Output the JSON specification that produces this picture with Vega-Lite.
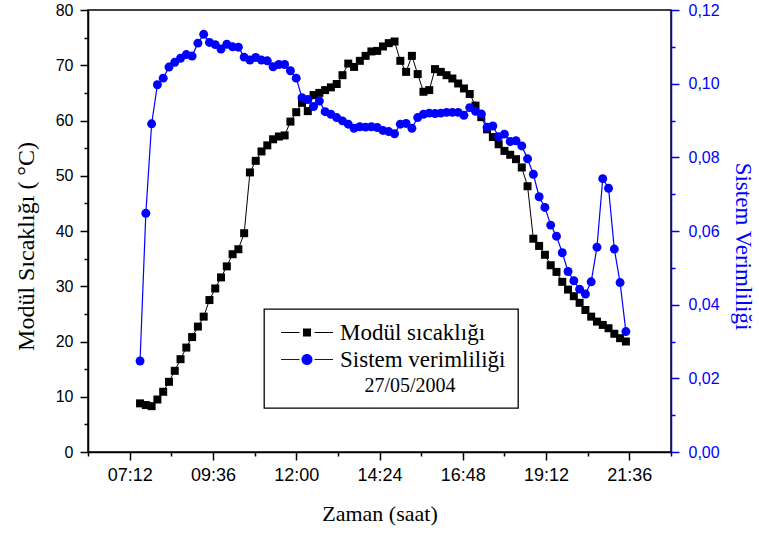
{
  "$schema": "https://vega.github.io/schema/vega-lite/v6.json",
  "width": 583,
  "height": 442,
  "autosize": {"type": "none"},
  "padding": {"left": 88, "top": 10, "right": 88, "bottom": 81},
  "background": "white",
  "config": {
    "view": {"stroke": "#000000", "strokeWidth": 1.5},
    "axis": {
      "grid": false,
      "domainColor": "#000000",
      "domainWidth": 1.5,
      "tickColor": "#000000",
      "tickWidth": 1.5,
      "labelFont": "Liberation Sans",
      "labelFontSize": 16,
      "labelColor": "#000000",
      "titleFont": "Liberation Serif",
      "titleFontSize": 22,
      "titleFontWeight": "normal",
      "titleColor": "#000000"
    }
  },
  "data": {
    "values": [
      {"saat": "2004-05-27T07:30", "sicaklik": 8.8, "verim": 0.0247},
      {"saat": "2004-05-27T07:40", "sicaklik": 8.5, "verim": 0.0648},
      {"saat": "2004-05-27T07:50", "sicaklik": 8.3, "verim": 0.0891},
      {"saat": "2004-05-27T08:00", "sicaklik": 9.5, "verim": 0.0997},
      {"saat": "2004-05-27T08:10", "sicaklik": 10.9, "verim": 0.1015},
      {"saat": "2004-05-27T08:20", "sicaklik": 12.7, "verim": 0.1045},
      {"saat": "2004-05-27T08:30", "sicaklik": 14.7, "verim": 0.1058},
      {"saat": "2004-05-27T08:40", "sicaklik": 16.8, "verim": 0.1069},
      {"saat": "2004-05-27T08:50", "sicaklik": 18.9, "verim": 0.1079},
      {"saat": "2004-05-27T09:00", "sicaklik": 20.8, "verim": 0.1075},
      {"saat": "2004-05-27T09:10", "sicaklik": 22.7, "verim": 0.1110},
      {"saat": "2004-05-27T09:20", "sicaklik": 24.5, "verim": 0.1134},
      {"saat": "2004-05-27T09:30", "sicaklik": 27.5, "verim": 0.1112},
      {"saat": "2004-05-27T09:40", "sicaklik": 29.6, "verim": 0.1106},
      {"saat": "2004-05-27T09:50", "sicaklik": 31.6, "verim": 0.1094},
      {"saat": "2004-05-27T10:00", "sicaklik": 33.6, "verim": 0.1107},
      {"saat": "2004-05-27T10:10", "sicaklik": 35.8, "verim": 0.1100},
      {"saat": "2004-05-27T10:20", "sicaklik": 36.7, "verim": 0.1099},
      {"saat": "2004-05-27T10:30", "sicaklik": 39.6, "verim": 0.1072},
      {"saat": "2004-05-27T10:40", "sicaklik": 50.6, "verim": 0.1064},
      {"saat": "2004-05-27T10:50", "sicaklik": 52.7, "verim": 0.1071},
      {"saat": "2004-05-27T11:00", "sicaklik": 54.4, "verim": 0.1064},
      {"saat": "2004-05-27T11:10", "sicaklik": 55.5, "verim": 0.1062},
      {"saat": "2004-05-27T11:20", "sicaklik": 56.6, "verim": 0.1046},
      {"saat": "2004-05-27T11:30", "sicaklik": 57.1, "verim": 0.1052},
      {"saat": "2004-05-27T11:40", "sicaklik": 57.3, "verim": 0.1052},
      {"saat": "2004-05-27T11:50", "sicaklik": 59.8, "verim": 0.1035},
      {"saat": "2004-05-27T12:00", "sicaklik": 61.5, "verim": 0.1015},
      {"saat": "2004-05-27T12:10", "sicaklik": 63.2, "verim": 0.0962},
      {"saat": "2004-05-27T12:20", "sicaklik": 61.7, "verim": 0.0957},
      {"saat": "2004-05-27T12:30", "sicaklik": 64.6, "verim": 0.0938},
      {"saat": "2004-05-27T12:40", "sicaklik": 65.0, "verim": 0.0953},
      {"saat": "2004-05-27T12:50", "sicaklik": 65.5, "verim": 0.0924},
      {"saat": "2004-05-27T13:00", "sicaklik": 66.0, "verim": 0.0917},
      {"saat": "2004-05-27T13:10", "sicaklik": 66.6, "verim": 0.0908},
      {"saat": "2004-05-27T13:20", "sicaklik": 68.2, "verim": 0.0899},
      {"saat": "2004-05-27T13:30", "sicaklik": 70.3, "verim": 0.0890},
      {"saat": "2004-05-27T13:40", "sicaklik": 69.7, "verim": 0.0879},
      {"saat": "2004-05-27T13:50", "sicaklik": 70.8, "verim": 0.0883},
      {"saat": "2004-05-27T14:00", "sicaklik": 71.7, "verim": 0.0882},
      {"saat": "2004-05-27T14:10", "sicaklik": 72.5, "verim": 0.0883},
      {"saat": "2004-05-27T14:20", "sicaklik": 72.6, "verim": 0.0881},
      {"saat": "2004-05-27T14:30", "sicaklik": 73.4, "verim": 0.0873},
      {"saat": "2004-05-27T14:40", "sicaklik": 74.0, "verim": 0.0870},
      {"saat": "2004-05-27T14:50", "sicaklik": 74.3, "verim": 0.0864},
      {"saat": "2004-05-27T15:00", "sicaklik": 70.8, "verim": 0.0890},
      {"saat": "2004-05-27T15:10", "sicaklik": 68.8, "verim": 0.0892},
      {"saat": "2004-05-27T15:20", "sicaklik": 71.7, "verim": 0.0879},
      {"saat": "2004-05-27T15:30", "sicaklik": 68.4, "verim": 0.0908},
      {"saat": "2004-05-27T15:40", "sicaklik": 65.2, "verim": 0.0917},
      {"saat": "2004-05-27T15:50", "sicaklik": 65.5, "verim": 0.0920},
      {"saat": "2004-05-27T16:00", "sicaklik": 69.3, "verim": 0.0919},
      {"saat": "2004-05-27T16:10", "sicaklik": 68.8, "verim": 0.0920},
      {"saat": "2004-05-27T16:20", "sicaklik": 68.2, "verim": 0.0922},
      {"saat": "2004-05-27T16:30", "sicaklik": 67.6, "verim": 0.0922},
      {"saat": "2004-05-27T16:40", "sicaklik": 66.7, "verim": 0.0922},
      {"saat": "2004-05-27T16:50", "sicaklik": 65.8, "verim": 0.0914},
      {"saat": "2004-05-27T17:00", "sicaklik": 64.8, "verim": 0.0935},
      {"saat": "2004-05-27T17:10", "sicaklik": 62.7, "verim": 0.0925},
      {"saat": "2004-05-27T17:20", "sicaklik": 60.6, "verim": 0.0918},
      {"saat": "2004-05-27T17:30", "sicaklik": 58.4, "verim": 0.0882},
      {"saat": "2004-05-27T17:40", "sicaklik": 57.0, "verim": 0.0885},
      {"saat": "2004-05-27T17:50", "sicaklik": 55.7, "verim": 0.0856},
      {"saat": "2004-05-27T18:00", "sicaklik": 54.5, "verim": 0.0863},
      {"saat": "2004-05-27T18:10", "sicaklik": 53.8, "verim": 0.0843},
      {"saat": "2004-05-27T18:20", "sicaklik": 53.0, "verim": 0.0845},
      {"saat": "2004-05-27T18:30", "sicaklik": 51.5, "verim": 0.0831},
      {"saat": "2004-05-27T18:40", "sicaklik": 48.1, "verim": 0.0796},
      {"saat": "2004-05-27T18:50", "sicaklik": 38.6, "verim": 0.0754},
      {"saat": "2004-05-27T19:00", "sicaklik": 37.3, "verim": 0.0693},
      {"saat": "2004-05-27T19:10", "sicaklik": 35.7, "verim": 0.0664},
      {"saat": "2004-05-27T19:20", "sicaklik": 33.8, "verim": 0.0616},
      {"saat": "2004-05-27T19:30", "sicaklik": 32.6, "verim": 0.0586},
      {"saat": "2004-05-27T19:40", "sicaklik": 30.8, "verim": 0.0541},
      {"saat": "2004-05-27T19:50", "sicaklik": 29.4, "verim": 0.0490},
      {"saat": "2004-05-27T20:00", "sicaklik": 28.2, "verim": 0.0465},
      {"saat": "2004-05-27T20:10", "sicaklik": 27.0, "verim": 0.0442},
      {"saat": "2004-05-27T20:20", "sicaklik": 25.7, "verim": 0.0429},
      {"saat": "2004-05-27T20:30", "sicaklik": 24.5, "verim": 0.0462},
      {"saat": "2004-05-27T20:40", "sicaklik": 23.6, "verim": 0.0556},
      {"saat": "2004-05-27T20:50", "sicaklik": 23.0, "verim": 0.0742},
      {"saat": "2004-05-27T21:00", "sicaklik": 22.4, "verim": 0.0716},
      {"saat": "2004-05-27T21:10", "sicaklik": 21.4, "verim": 0.0551},
      {"saat": "2004-05-27T21:20", "sicaklik": 20.6, "verim": 0.0460},
      {"saat": "2004-05-27T21:30", "sicaklik": 20.0, "verim": 0.0327}
    ]
  },
  "encoding": {
    "x": {
      "field": "saat",
      "type": "temporal",
      "scale": {
        "domain": [
          {"year": 2004, "month": 5, "date": 27, "hours": 6, "minutes": 0},
          {"year": 2004, "month": 5, "date": 27, "hours": 22, "minutes": 48}
        ]
      },
      "axis": {
        "title": "Zaman (saat)",
        "values": [
          {"year": 2004, "month": 5, "date": 27, "hours": 6, "minutes": 0},
          {"year": 2004, "month": 5, "date": 27, "hours": 7, "minutes": 12},
          {"year": 2004, "month": 5, "date": 27, "hours": 8, "minutes": 24},
          {"year": 2004, "month": 5, "date": 27, "hours": 9, "minutes": 36},
          {"year": 2004, "month": 5, "date": 27, "hours": 10, "minutes": 48},
          {"year": 2004, "month": 5, "date": 27, "hours": 12, "minutes": 0},
          {"year": 2004, "month": 5, "date": 27, "hours": 13, "minutes": 12},
          {"year": 2004, "month": 5, "date": 27, "hours": 14, "minutes": 24},
          {"year": 2004, "month": 5, "date": 27, "hours": 15, "minutes": 36},
          {"year": 2004, "month": 5, "date": 27, "hours": 16, "minutes": 48},
          {"year": 2004, "month": 5, "date": 27, "hours": 18, "minutes": 0},
          {"year": 2004, "month": 5, "date": 27, "hours": 19, "minutes": 12},
          {"year": 2004, "month": 5, "date": 27, "hours": 20, "minutes": 24},
          {"year": 2004, "month": 5, "date": 27, "hours": 21, "minutes": 36},
          {"year": 2004, "month": 5, "date": 27, "hours": 22, "minutes": 48}
        ],
        "labelExpr": "(hours(datum.value) * 60 + minutes(datum.value) - 432) % 144 === 0 ? timeFormat(datum.value, '%H:%M') : ''",
        "tickSize": {"condition": {"test": "(hours(datum.value) * 60 + minutes(datum.value) - 432) % 144 === 0", "value": 8}, "value": 4},
        "labelPadding": 6,
        "labelFontSize": 18,
        "titlePadding": 19,
        "labelFlush": false,
        "labelOverlap": false
      }
    }
  },
  "layer": [
    {
      "encoding": {
        "y": {
          "field": "sicaklik",
          "type": "quantitative",
          "scale": {"domain": [0, 80], "nice": false},
          "axis": {
            "title": "Modül Sıcaklığı ( °C)",
            "titleFontSize": 24,
            "titleY": 236,
            "values": [0, 5, 10, 15, 20, 25, 30, 35, 40, 45, 50, 55, 60, 65, 70, 75, 80],
            "labelExpr": "datum.value % 10 === 0 ? datum.label : ''",
            "tickSize": {"condition": {"test": "datum.value % 10 === 0", "value": 8}, "value": 4},
            "labelPadding": 7,
            "titlePadding": 17,
            "labelFlush": false,
            "labelOverlap": false
          }
        }
      },
      "layer": [
        {"mark": {"type": "line", "color": "#000000", "strokeWidth": 1}},
        {
          "mark": {"type": "point", "shape": "square", "filled": true, "size": 64, "opacity": 1},
          "encoding": {
            "color": {
              "datum": "Modül sıcaklığı",
              "type": "nominal",
              "scale": {"domain": ["Modül sıcaklığı", "Sistem verimliliği"], "range": ["#000000", "#0000ff"]},
              "legend": {
                "orient": "none",
                "legendX": 176,
                "legendY": 299,
                "title": "27/05/2004",
                "titleOrient": "bottom",
                "titleAnchor": "middle",
                "titleFont": "Liberation Serif",
                "titleFontSize": 20,
                "titleFontWeight": "normal",
                "titleColor": "#000000",
                "titlePadding": 4,
                "labelFont": "Liberation Serif",
                "labelFontSize": 23,
                "labelColor": "#000000",
                "labelLimit": 400,
                "labelOffset": 41,
                "symbolSize": 256,
                "symbolOpacity": 1,
                "rowPadding": 3,
                "padding": 12,
                "strokeColor": "#000000",
                "fillColor": "#ffffff",
                "encode": {
                  "symbols": {
                    "update": {
                      "shape": {"signal": "datum.value === 'Modül sıcaklığı' ? 'M-0.8125,-0.07L1.5,-0.07L1.5,0.07L-0.8125,0.07Z M3.375,-0.07L5.6875,-0.07L5.6875,0.07L3.375,0.07Z M1.9375,-0.5L2.9375,-0.5L2.9375,0.5L1.9375,0.5Z' : 'M-0.8125,-0.07L1.5,-0.07L1.5,0.07L-0.8125,0.07Z M3.375,-0.07L5.6875,-0.07L5.6875,0.07L3.375,0.07Z M1.75,0A0.6875,0.6875 0 1,1 3.125,0A0.6875,0.6875 0 1,1 1.75,0Z'"},
                      "strokeWidth": {"value": 0},
                      "opacity": {"value": 1},
                      "zindex": {"value": 2}
                    }
                  },
                  "title": {"update": {"dx": {"value": 19}}},
                  "legend": {"update": {"strokeWidth": {"value": 1.3}}}
                }
              }
            }
          }
        }
      ]
    },
    {
      "encoding": {
        "y": {
          "field": "verim",
          "type": "quantitative",
          "scale": {"domain": [0, 0.12], "nice": false},
          "axis": {
            "orient": "right",
            "title": "Sistem Verimliliği",
            "titleY": 236,
            "values": [0, 0.01, 0.02, 0.03, 0.04, 0.05, 0.06, 0.07, 0.08, 0.09, 0.1, 0.11, 0.12],
            "labelExpr": "round(datum.value * 100) % 2 === 0 ? replace(format(datum.value, '.2f'), '.', ',') : ''",
            "tickSize": {"condition": {"test": "round(datum.value * 100) % 2 === 0", "value": 8}, "value": 4},
            "domainColor": "#0000ff",
            "tickColor": "#0000ff",
            "labelColor": "#0000ff",
            "titleColor": "#0000ff",
            "titleFontSize": 23,
            "labelPadding": 9,
            "titlePadding": 11,
            "labelFlush": false,
            "labelOverlap": false
          }
        }
      },
      "layer": [
        {"mark": {"type": "line", "color": "#0000ff", "strokeWidth": 1.2}},
        {
          "mark": {"type": "point", "shape": "circle", "filled": true, "size": 80, "opacity": 1},
          "encoding": {
            "color": {"datum": "Sistem verimliliği", "type": "nominal"}
          }
        }
      ]
    }
  ],
  "resolve": {"scale": {"y": "independent"}}
}
